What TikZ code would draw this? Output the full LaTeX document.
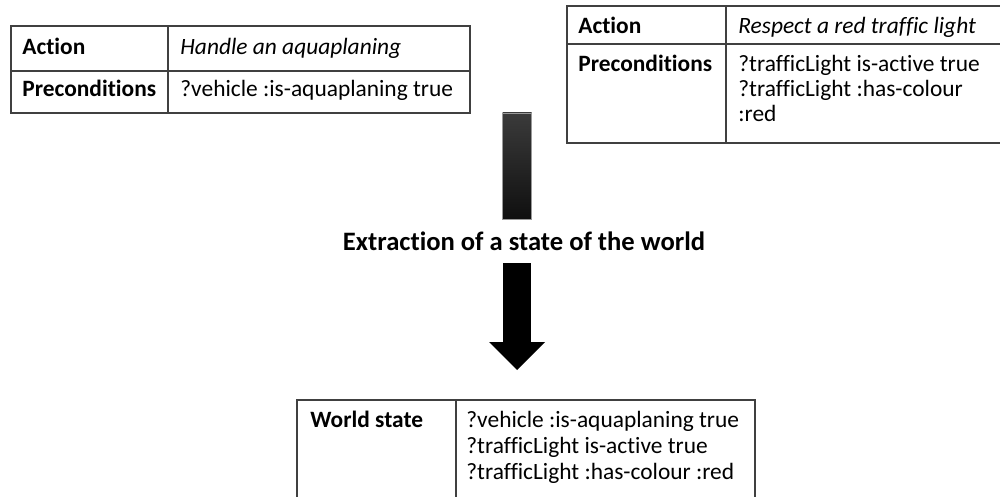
\documentclass[tikz,border=0pt]{standalone}
\usepackage{fontspec}
\setmainfont{Carlito}[Ligatures={NoCommon,NoContextual}]
\usetikzlibrary{arrows.meta,positioning}

\begin{document}
\begin{tikzpicture}
[x=0.5pt, y=-0.5pt,
 cellbox/.style={rectangle, draw=black!75, line width=0.65pt, inner sep=0pt, outer sep=0pt},
 celltext/.style={anchor=base west, inner sep=0pt, font=\fontsize{11.7}{14}\selectfont},
 celllabel/.style={celltext, font=\fontsize{11.7}{14}\selectfont\bfseries},
 actiontext/.style={celltext, font=\fontsize{11.7}{14}\selectfont\itshape},
 bar/.style={rectangle, draw=black!40, line width=0.4pt, top color=black!77, bottom color=black!94, minimum width=14.5pt, minimum height=53pt, inner sep=0pt},
 fatarrow/.style={line width=14pt, -{Triangle[width=28pt, length=14pt, line width=0pt]}}]
    \useasboundingbox (0,0) rectangle (1000,497);
    \clip (0,0) rectangle (1000,497);
    % action: aquaplaning
    \node[cellbox, anchor=north west, minimum width=78.5pt, minimum height=22.5pt](aquaActK) at (11,26) {};
    \node[cellbox, minimum width=151pt, minimum height=22.5pt](aquaActV) [right=0pt of aquaActK] {};
    \node[cellbox, minimum width=78.5pt, minimum height=21pt](aquaPreK) [below=0pt of aquaActK] {};
    \node[cellbox, minimum width=151pt, minimum height=21pt](aquaPreV) [below=0pt of aquaActV] {};
    \node[celllabel](aquaActT) at (22,55) {Action};
    \node[actiontext](aquaActN) at (180,55) {Handle an aquaplaning};
    \node[celllabel](aquaPreT) at (22,97) {Preconditions};
    \node[celltext](aquaPre1) at (180,97) {?vehicle :is-aquaplaning true};
    % action: red traffic light
    \node[cellbox, anchor=north west, minimum width=79.5pt, minimum height=19pt](lightActK) at (567,6) {};
    \node[cellbox, minimum width=142pt, minimum height=19pt](lightActV) [right=0pt of lightActK] {};
    \node[cellbox, minimum width=79.5pt, minimum height=49.5pt](lightPreK) [below=0pt of lightActK] {};
    \node[cellbox, minimum width=142pt, minimum height=49.5pt](lightPreV) [below=0pt of lightActV] {};
    \node[celllabel](lightActT) at (578,34) {Action};
    \node[actiontext](lightActN) at (738,34) {Respect a red traffic light};
    \node[celllabel](lightPreT) at (578,72) {Preconditions};
    \node[celltext](lightPre1) at (738,72) {?trafficLight is-active true};
    \node[celltext](lightPre2) at (738,97) {?trafficLight :has-colour};
    \node[celltext](lightPre3) at (738,122) {:red};
    % extraction
    \node[bar](bar) at (517,166) {};
    \node[anchor=base, inner sep=0pt, font=\fontsize{13.3}{16}\selectfont\bfseries](extract) at (524,250) {Extraction of a state of the world};
    \coordinate (arrowtop) at (517,263);
    \coordinate (arrowtip) at (517,370);
    \draw[fatarrow] (arrowtop) -- (arrowtip);
    % world state
    \node[cellbox, anchor=north west, minimum width=79.5pt, minimum height=60pt](worldK) at (297,400) {};
    \node[cellbox, minimum width=149.5pt, minimum height=60pt](worldV) [right=0pt of worldK] {};
    \node[celllabel](worldT) at (310,427) {World state};
    \node[celltext](world1) at (466,427) {?vehicle :is-aquaplaning true};
    \node[celltext](world2) at (466,453) {?trafficLight is-active true};
    \node[celltext](world3) at (466,479) {?trafficLight :has-colour :red};
\end{tikzpicture}
\end{document}
